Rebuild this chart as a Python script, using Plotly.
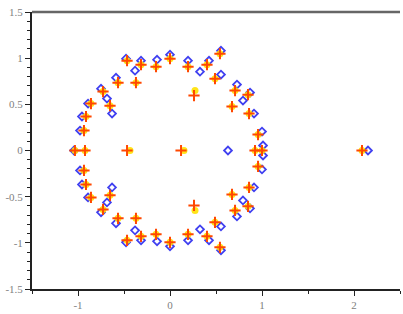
import plotly.graph_objects as go

# Series 1 (blue open diamonds)
blue_x = [-1.043, -0.978, -0.957, -0.891, -0.750, -0.685, -0.630, -0.587, -0.478, -0.380,
          -0.315, -0.141, 0.000, 0.196, 0.326, 0.424, 0.554, 0.554, 0.728, 0.870,
          0.793, 0.913, 1.000, 1.011,
          -0.978, -0.957, -0.891, -0.750, -0.685, -0.630, -0.587, -0.478, -0.380,
          -0.315, -0.141, 0.000, 0.196, 0.326, 0.424, 0.554, 0.554, 0.728, 0.870,
          0.793, 0.913, 1.000, 1.011,
          0.630, 2.152]
blue_y = [0.000, 0.216, 0.368, 0.508, 0.670, 0.562, 0.400, 0.789, 0.995, 0.865,
          0.973, 0.984, 1.038, 0.973, 0.854, 0.973, 1.081, 0.822, 0.714, 0.627,
          0.541, 0.400, 0.205, 0.054,
          -0.216, -0.368, -0.508, -0.670, -0.562, -0.400, -0.789, -0.995, -0.865,
          -0.973, -0.984, -1.038, -0.973, -0.854, -0.973, -1.081, -0.822, -0.714, -0.627,
          -0.541, -0.400, -0.205, -0.054,
          0.000, 0.000]

# Series 2 (red crosses)
red_x = [-1.033, -0.924, -0.935, -0.913, -0.859, -0.728, -0.652, -0.565, -0.467, -0.370,
         -0.315, -0.152, 0.000, 0.196, 0.402, 0.543, 0.489, 0.261, 0.707, 0.848,
         0.674, 0.859, 0.957,
         -0.935, -0.913, -0.859, -0.728, -0.652, -0.565, -0.467, -0.370,
         -0.315, -0.152, 0.000, 0.196, 0.402, 0.543, 0.489, 0.261, 0.707, 0.848,
         0.674, 0.859, 0.957,
         0.924, 1.000, -0.467, 0.120, 2.087]
red_y = [0.000, 0.000, 0.216, 0.368, 0.508, 0.638, 0.486, 0.735, 0.973, 0.735,
         0.930, 0.908, 0.995, 0.908, 0.930, 1.049, 0.778, 0.595, 0.649, 0.605,
         0.476, 0.400, 0.173,
         -0.216, -0.368, -0.508, -0.638, -0.486, -0.735, -0.973, -0.735,
         -0.930, -0.908, -0.995, -0.908, -0.930, -1.049, -0.778, -0.595, -0.649, -0.605,
         -0.476, -0.400, -0.173,
         0.000, 0.000, 0.000, 0.000, 0.000]

# Series 3 (yellow dots)
yellow_x = [-1.033, -0.924, -0.935, -0.913, -0.859, -0.728, -0.652, -0.565, -0.467, -0.370,
            -0.315, -0.152, 0.000, 0.196, 0.402, 0.543, 0.489, 0.272, 0.707, 0.848,
            0.674, 0.859, 0.957,
            -0.935, -0.913, -0.859, -0.728, -0.652, -0.565, -0.467, -0.370,
            -0.315, -0.152, 0.000, 0.196, 0.402, 0.543, 0.489, 0.272, 0.707, 0.848,
            0.674, 0.859, 0.957,
            0.924, 1.000, -0.435, 0.152, 2.087]
yellow_y = [0.000, 0.000, 0.216, 0.368, 0.508, 0.638, 0.486, 0.735, 0.973, 0.735,
            0.930, 0.908, 0.995, 0.908, 0.930, 1.049, 0.778, 0.649, 0.649, 0.605,
            0.476, 0.400, 0.173,
            -0.216, -0.368, -0.508, -0.638, -0.486, -0.735, -0.973, -0.735,
            -0.930, -0.908, -0.995, -0.908, -0.930, -1.049, -0.778, -0.649, -0.649, -0.605,
            -0.476, -0.400, -0.173,
            0.000, 0.000, 0.000, 0.000, 0.000]

x_tickvals = [-1, 0, 1, 2]
x_ticktext = ["-1", "0", "1", "2"]
y_tickvals = [-1.5, -1, -0.5, 0, 0.5, 1, 1.5]
y_ticktext = ["-1.5", "-1", "-0.5", "0", "0.5", "1", "1.5"]

fig = go.Figure()
fig.add_trace(go.Scatter(x=blue_x, y=blue_y, mode="markers",
                         marker=dict(symbol="diamond-open", size=6, color="#4040f0",
                                     line=dict(width=1.8, color="#4040f0"))))
fig.add_trace(go.Scatter(x=yellow_x, y=yellow_y, mode="markers",
                         marker=dict(symbol="circle", size=7, color="rgba(255,225,0,0.9)",
                                     line=dict(width=0))))
fig.add_trace(go.Scatter(x=red_x, y=red_y, mode="markers",
                         marker=dict(symbol="cross-thin", size=8, color="#ff4800",
                                     line=dict(width=2, color="#ff4800"))))

tickfont = dict(family="Liberation Serif", size=11, color="#808080")
fig.update_layout(
    width=403, height=314, showlegend=False,
    paper_bgcolor="white", plot_bgcolor="white",
    margin=dict(l=32, r=3, t=12, b=22),
    xaxis=dict(range=[-1.5, 2.5], showgrid=False, zeroline=False,
               showline=True, linecolor="#222222", linewidth=2,
               tickmode="array", tickvals=x_tickvals, ticktext=x_ticktext,
               ticks="outside", ticklen=5, tickwidth=1, tickcolor="#222222",
               tickfont=tickfont,
               minor=dict(dtick=0.5, tick0=0, ticks="outside", ticklen=3,
                          tickcolor="#222222", showgrid=False)),
    yaxis=dict(range=[-1.5, 1.5], showgrid=False, zeroline=False,
               showline=True, linecolor="#222222", linewidth=2,
               tickmode="array", tickvals=y_tickvals, ticktext=y_ticktext,
               ticks="outside", ticklen=5, tickwidth=1, tickcolor="#222222",
               tickfont=tickfont,
               minor=dict(dtick=0.1, tick0=0, ticks="outside", ticklen=3,
                          tickcolor="#222222", showgrid=False)),
    shapes=[dict(type="line", xref="paper", yref="paper", x0=0, x1=1, y0=1, y1=1,
                 line=dict(color="#666666", width=2.5))],
)
fig.write_html("out.html")
